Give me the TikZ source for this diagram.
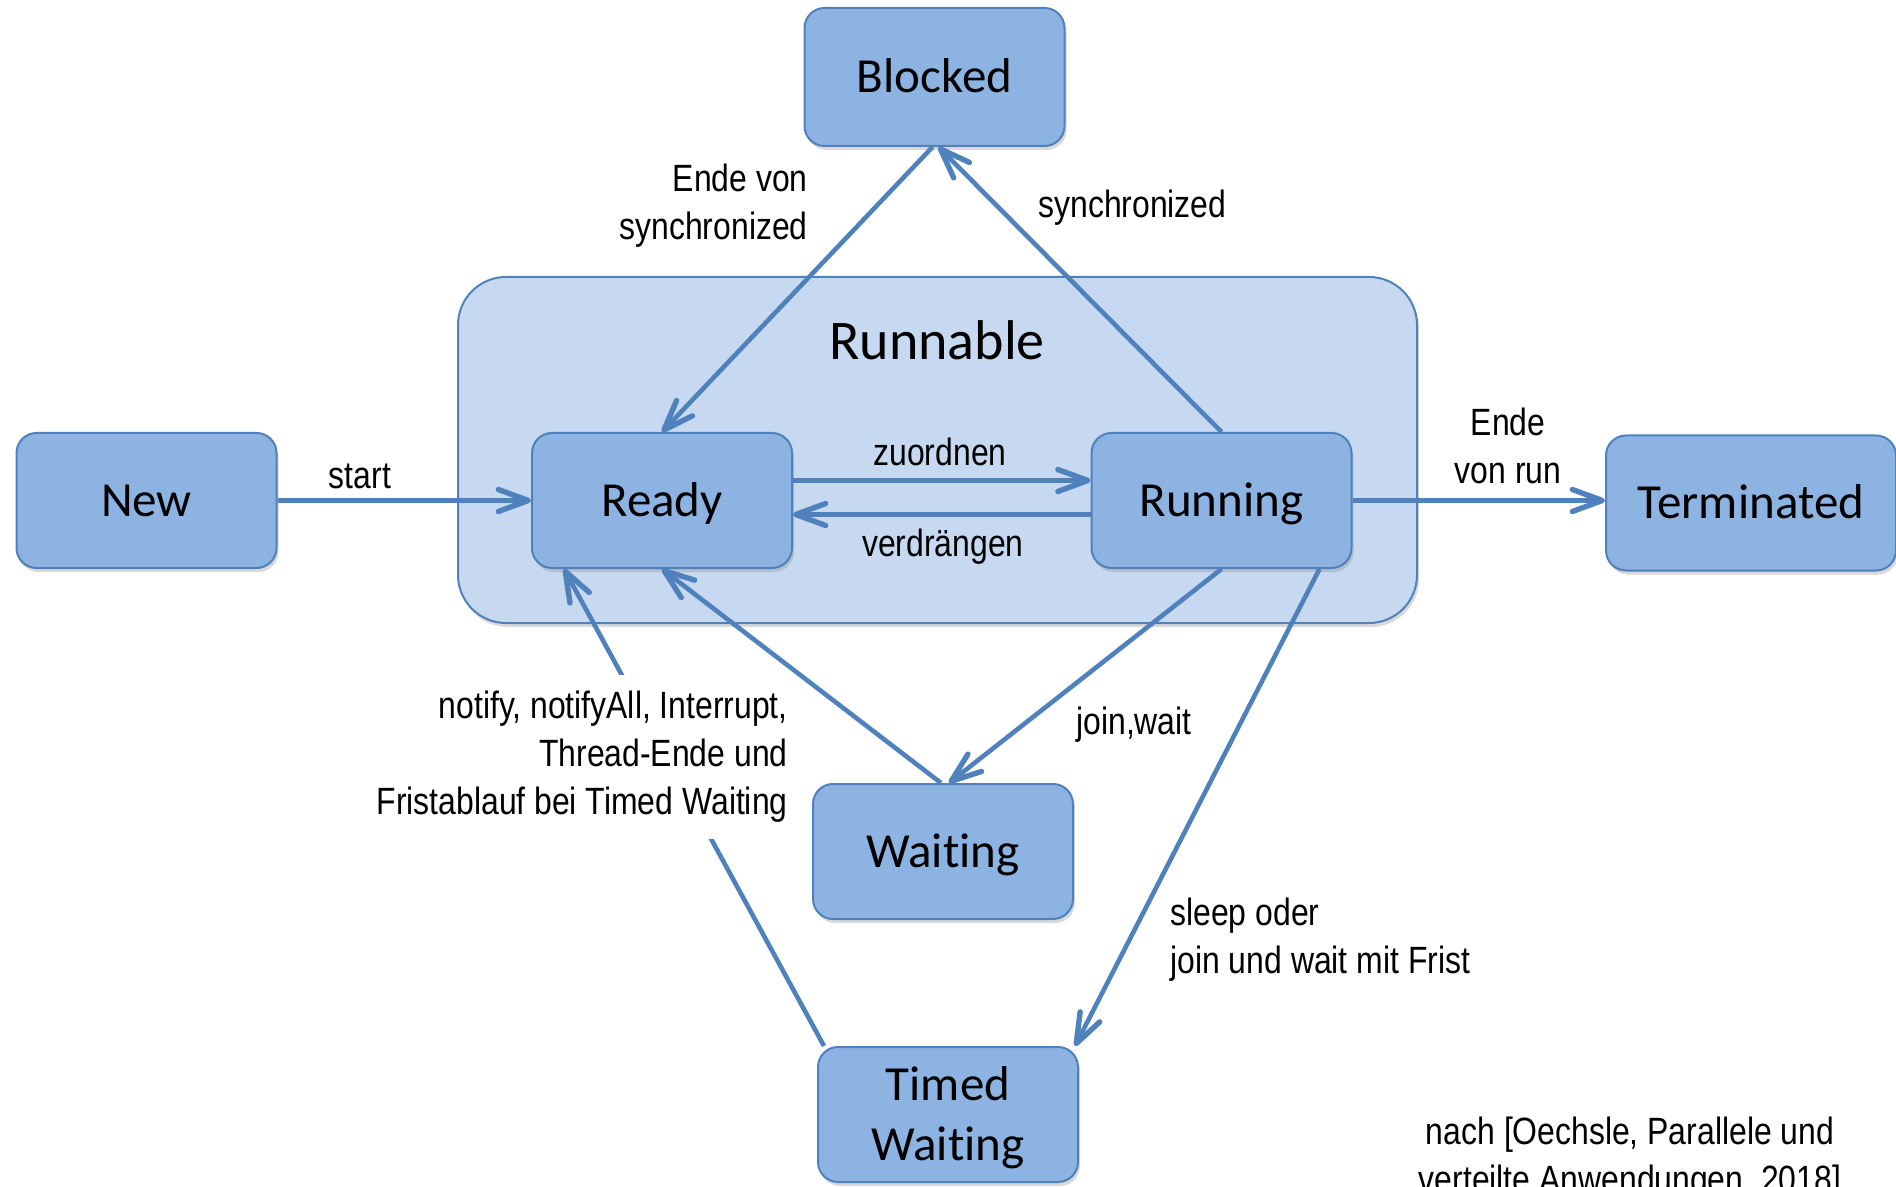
\documentclass[tikz,border=0pt]{standalone}
\usepackage{fontspec}
\setmainfont{Carlito}[RawFeature={-liga;-clig;-calt;-dlig}]
\newfontfamily\labfont[FakeStretch=0.84]{Liberation Sans}
\usetikzlibrary{arrows.meta,shadows}
\definecolor{boxfill}{HTML}{8DB3E2}
\definecolor{boxline}{HTML}{4F81BD}
\definecolor{runfill}{HTML}{C6D9F1}
\definecolor{arrowc}{HTML}{4F81BD}
\newcommand{\waitword}{Wait\kern0pt{}ing}
\begin{document}
\begin{tikzpicture}[x=0.5pt,y=-0.5pt,
  state/.style={draw=boxline, line width=1pt, fill=boxfill, rounded corners=10pt,
    minimum width=130pt, minimum height=67.5pt, inner sep=0pt, align=center,
    font=\fontsize{24.5}{30}\selectfont, text height=15.8pt, text depth=0pt,
    drop shadow={shadow xshift=1pt,shadow yshift=-2pt,opacity=0.3}},
  trans/.style={draw=arrowc, line width=2.3pt,
    -{Straight Barb[length=15pt,width=11pt,round,line width=2.7pt]}},
  lab/.style={font=\labfont\fontsize{19}{24}\selectfont, inner sep=1pt}
]
\useasboundingbox (0,0) rectangle (1896,1187);

% Runnable container
\node[draw=boxline, line width=1pt, fill=runfill, rounded corners=24pt,
  minimum width=479.5pt, minimum height=173pt,
  drop shadow={shadow xshift=1pt,shadow yshift=-2pt,opacity=0.3}] (runnable) at (937.5,450) {};
\node[font=\fontsize{28}{34}\selectfont] (runlabel) at (937,340) {Runnable};

% States
\node[state] (new) at (146.5,500.5) {New};
\node[state] (ready) at (662,500.5) {Ready};
\node[state] (running) at (1221.5,500.5) {Running};
\node[state, minimum width=145pt] (term) at (1751,503) {Terminated};
\node[state, minimum height=69pt] (blocked) at (934.5,77) {Blocked};
\node[state] (waiting) at (943,851.5) {\waitword};
\node[state, text height=45.8pt] (timed) at (948,1114.5) {Timed\\\waitword};

% Transitions
\draw[trans] (new.east) -- (ready.west);
\draw[trans] ([yshift=10pt]ready.east) -- ([yshift=10pt]running.west);
\draw[trans] ([yshift=-7pt]running.west) -- ([yshift=-7pt]ready.east);
\draw[trans] (running.east) -- (running.east -| term.west);
\draw[trans] ([xshift=-1pt]blocked.south) -- (ready.north);
\draw[trans] (running.north) -- ([xshift=2pt]blocked.south);
\draw[trans] (running.south) -- ([xshift=3pt]waiting.north);
\draw[trans] ([xshift=-1pt]waiting.north) -- (ready.south);
\draw[trans] ([xshift=3.5pt]timed.north west) -- ([xshift=16.5pt]ready.south west);
\draw[trans] ([xshift=-16.5pt]running.south east) -- ([xshift=-2pt]timed.north east);

% Labels
\node[lab] (lstart) at (360,476) {start};
\node[lab] (lzu) at (940,452) {zuordnen};
\node[lab] (lver) at (943,547) {verdrängen};
\node[lab, align=center] (lend) at (1508,446) {Ende\\von run};
\node[lab, align=right, anchor=east] (lendsync) at (810,206) {Ende von\\synchronized};
\node[lab, anchor=west] (lsync) at (1036,208) {synchronized};
\node[lab, anchor=west] (ljoin) at (1074,725) {join,wait};
\node[lab, align=right, anchor=east, fill=white, inner ysep=8pt, inner xsep=2pt] (lnotify) at (792,757)
  {notify, notifyAll, Interrupt,\\Thread-Ende und\\Fristablauf bei Timed Waiting};
\node[lab, align=left, anchor=west] (lsleep) at (1168,940) {sleep oder\\join und wait mit Frist};
\node[lab, align=center] (lref) at (1630,1158.5) {nach [Oechsle, Parallele und\\verteilte Anwendungen, 2018]};
\end{tikzpicture}
\end{document}
